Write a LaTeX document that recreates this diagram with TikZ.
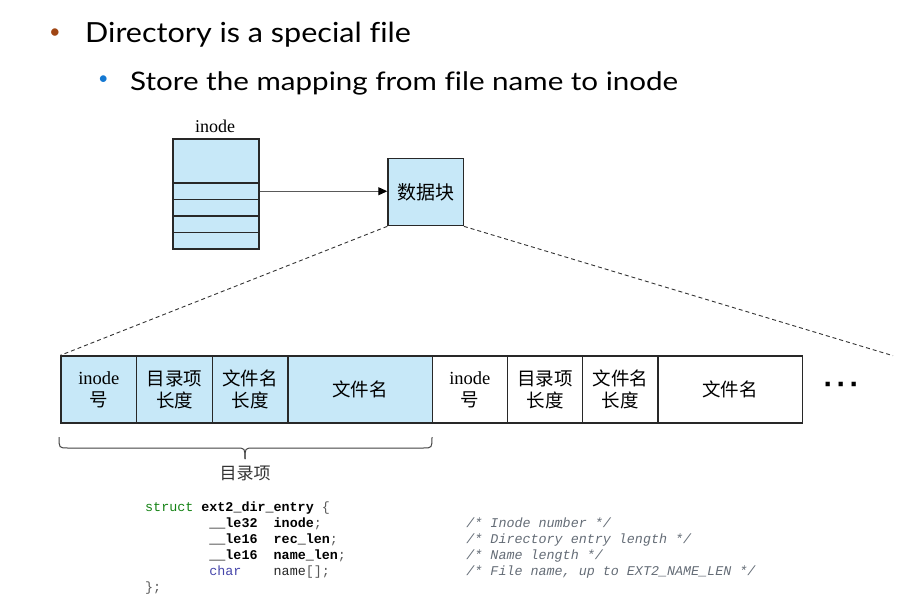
\documentclass[tikz,border=0pt]{standalone}
\usepackage{fontspec}
\setmainfont{Liberation Serif}
\setmonofont{Liberation Mono}
\newfontfamily\cjk{Noto Sans CJK SC}
\newfontfamily\ttl[Ligatures=NoCommon]{Lato}
\newfontfamily\dotfont{Liberation Sans}
\usetikzlibrary{arrows.meta}
\definecolor{cellblue}{RGB}{199,232,248}
\definecolor{edge}{RGB}{40,40,40}
\definecolor{bbrown}{RGB}{160,70,20}
\definecolor{bblue}{RGB}{20,120,210}
\definecolor{kwgreen}{RGB}{20,130,20}
\definecolor{kwblue}{RGB}{70,70,170}
\definecolor{cmt}{RGB}{100,108,118}
\definecolor{pun}{RGB}{90,90,90}
\begin{document}
\begin{tikzpicture}[x=1pt,y=-1pt,
  cell/.style={draw=edge, line width=1.3pt, inner sep=0pt, minimum height=67pt, align=center,
    font=\fontsize{18.5}{22}\selectfont},
  bluecell/.style={cell, fill=cellblue},
  whitecell/.style={cell, fill=white},
  slot/.style={draw=edge, line width=1.1pt, fill=cellblue, minimum width=86pt, inner sep=0pt},
  code/.style={anchor=base west, inner sep=0pt, font=\ttfamily\fontsize{13.38}{16}\selectfont},
  zoomline/.style={draw=black!80, line width=0.9pt, dash pattern=on 4pt off 3pt}
]
\useasboundingbox (0,0) rectangle (918,602);

% titles
\node[inner sep=0pt, text=bbrown, font=\ttl\fontsize{20}{20}\selectfont] (b1) at (55,33.3) {•};
\node[anchor=base west, inner sep=0pt] (t1) at (85,42.7)
  {\resizebox{325.7pt}{20.4pt}{\ttl\fontsize{26}{30}\selectfont Directory is a special file}};
\node[inner sep=0pt, text=bblue, font=\ttl\fontsize{18}{18}\selectfont] (b2) at (103.3,80) {•};
\node[anchor=base west, inner sep=0pt] (t2) at (130,90)
  {\resizebox{548pt}{18.8pt}{\ttl\fontsize{24}{28}\selectfont Store the mapping from file name to inode}};

% inode box
\node[font=\fontsize{18}{20}\selectfont, inner sep=0pt] (il) at (215,126) {inode};
\node[slot, minimum height=44pt] (ib0) at (216,161) {};
\node[slot, minimum height=16.5pt] (ib1) at (216,191.25) {};
\node[slot, minimum height=16.5pt] (ib2) at (216,207.75) {};
\node[slot, minimum height=16.5pt] (ib3) at (216,224.25) {};
\node[slot, minimum height=16.5pt] (ib4) at (216,240.75) {};

% data block
\node[draw=edge, line width=1.3pt, fill=cellblue, minimum width=75.3pt, minimum height=67.4pt,
  inner sep=0pt, font=\cjk\fontsize{19}{20}\selectfont] (db) at (425.6,192) {数据块};
\draw[draw=black!65, line width=1pt, -{Triangle[length=9pt,width=8pt,color=black]}]
  (ib1.east) -- (ib1.east -| db.west);

% entry row
\node[bluecell, minimum width=75.7pt] (c1) at (98.85,389.5) {inode\\{\cjk 号}};
\node[bluecell, minimum width=75.6pt] (c2) at (174.5,389.5) {\cjk 目录项\\\cjk 长度};
\node[bluecell, minimum width=75.7pt] (c3) at (250.15,389.5) {\cjk 文件名\\\cjk 长度};
\node[bluecell, minimum width=144.3pt] (c4) at (360.15,389.5) {\cjk 文件名};
\node[whitecell, minimum width=75pt] (c5) at (469.8,389.5) {inode\\{\cjk 号}};
\node[whitecell, minimum width=75.4pt] (c6) at (545,389.5) {\cjk 目录项\\\cjk 长度};
\node[whitecell, minimum width=75.3pt] (c7) at (620.35,389.5) {\cjk 文件名\\\cjk 长度};
\node[whitecell, minimum width=144.3pt] (c8) at (730.15,389.5) {\cjk 文件名};
\node[inner sep=0pt, font=\dotfont\bfseries\fontsize{30}{30}\selectfont] (dots) at (841.5,388)
  {·\kern3pt·\kern3pt·};

% dashed zoom lines
\coordinate (dend) at (893,355.7);
\draw[zoomline] (db.south west) -- (c1.north west);
\draw[zoomline] (db.south east) -- (dend);

% brace
\draw[draw=black!75, line width=1pt] (59,437) .. controls (59,448) .. (68,448) -- (236,448) .. controls (245,448) .. (245,459);
\draw[draw=black!75, line width=1pt] (432,437) .. controls (432,448) .. (423,448) -- (254,448) .. controls (245,448) .. (245,459);
\node[inner sep=0pt, text=black!80, font=\cjk\fontsize{17}{18}\selectfont] (bl) at (245,473) {目录项};

% code
\node[code] (l1a) at (145,511) {\textcolor{kwgreen}{struct}};
\node[code] (l1b) at (201.2,511) {\textbf{ext2\_dir\_entry} \textcolor{pun}{\{}};
\node[code] (l2a) at (209.2,527) {\textbf{\_\_le32}};
\node[code] (l2b) at (273.5,527) {\textbf{inode}\textcolor{pun}{;}};
\node[code] (l2c) at (466.2,527) {\textcolor{cmt}{\itshape /* Inode number */}};
\node[code] (l3a) at (209.2,543) {\textbf{\_\_le16}};
\node[code] (l3b) at (273.5,543) {\textbf{rec\_len}\textcolor{pun}{;}};
\node[code] (l3c) at (466.2,543) {\textcolor{cmt}{\itshape /* Directory entry length */}};
\node[code] (l4a) at (209.2,559) {\textbf{\_\_le16}};
\node[code] (l4b) at (273.5,559) {\textbf{name\_len}\textcolor{pun}{;}};
\node[code] (l4c) at (466.2,559) {\textcolor{cmt}{\itshape /* Name length */}};
\node[code] (l5a) at (209.2,575) {\textcolor{kwblue}{char}};
\node[code] (l5b) at (273.5,575) {\textcolor{black!85}{name}\textcolor{pun}{[];}};
\node[code] (l5c) at (466.2,575) {\textcolor{cmt}{\itshape /* File name, up to EXT2\_NAME\_LEN */}};
\node[code] (l6a) at (145,591) {\textcolor{pun}{\};}};
\end{tikzpicture}
\end{document}
